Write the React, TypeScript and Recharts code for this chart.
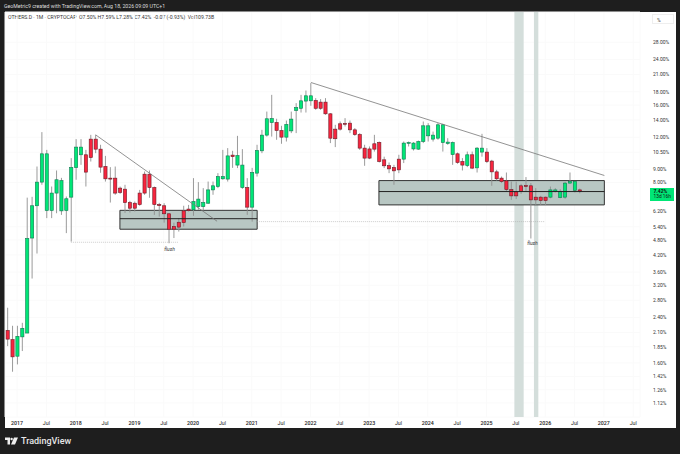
import React from "react";
import { Bar, CartesianGrid, ComposedChart, ReferenceArea, ReferenceDot, ReferenceLine, XAxis, YAxis } from "recharts";

// monthly candles, Nov 2016 to Aug 2026, values in %
const opens = [2.14, 1.97, 1.70, 2.02, 2.09, 4.88, 6.51, 8.04, 6.24, 6.24, 7.29, 6.22, 6.24, 7.03, 9.16, 10.26, 10.26, 11.80, 11.80, 10.79, 9.24, 8.33, 8.33, 7.62, 7.55, 6.70, 6.66, 7.29, 8.63, 8.63, 7.66, 6.58, 6.51, 6.06, 5.41, 5.62, 6.22, 6.32, 6.28, 6.46, 6.46, 6.66, 7.50, 7.73, 8.28, 8.26, 10.23, 9.36, 7.66, 7.66, 6.43, 8.71, 10.63, 12.23, 13.68, 13.68, 12.74, 12.01, 12.70, 15.23, 15.54, 16.57, 16.61, 16.66, 16.42, 16.42, 14.79, 12.90, 13.53, 13.57, 13.61, 12.82, 12.29, 10.89, 10.81, 11.32, 11.45, 9.81, 9.32, 9.16, 9.87, 9.87, 11.37, 10.81, 10.79, 11.55, 12.15, 11.80, 11.90, 11.45, 11.35, 10.28, 10.35, 9.66, 9.32, 10.26, 9.13, 10.51, 10.51, 9.70, 8.81, 8.33, 8.13, 7.52, 7.37, 7.78, 7.80, 7.78, 7.03, 7.03, 7.03, 7.03, 7.41, 7.00, 7.03, 7.97, 7.47, 7.50];
const highs = [2.62, 2.23, 2.23, 2.29, 7.00, 7.05, 9.24, 12.56, 10.72, 7.73, 8.92, 8.35, 7.07, 9.96, 11.80, 11.80, 10.72, 12.26, 12.26, 11.22, 10.16, 9.19, 9.24, 7.73, 7.85, 6.80, 6.76, 7.50, 8.84, 8.92, 7.73, 6.68, 6.66, 6.09, 5.60, 5.83, 6.51, 6.56, 8.33, 8.04, 7.62, 8.08, 8.08, 8.71, 10.72, 10.89, 10.63, 12.15, 10.79, 8.33, 9.13, 11.22, 12.82, 15.09, 17.52, 14.15, 13.29, 13.93, 15.09, 16.27, 17.52, 18.21, 19.46, 17.01, 16.87, 17.01, 14.88, 13.41, 13.81, 14.23, 13.93, 13.02, 12.45, 11.22, 11.05, 12.26, 11.55, 10.09, 9.58, 9.38, 10.26, 11.55, 11.55, 11.49, 11.65, 13.81, 13.61, 12.62, 13.61, 13.53, 11.90, 11.55, 10.47, 9.96, 10.56, 10.56, 10.99, 12.37, 10.89, 9.81, 8.97, 8.45, 8.76, 8.08, 8.08, 7.92, 8.41, 7.97, 7.62, 7.11, 7.07, 7.73, 7.62, 7.55, 8.06, 8.76, 8.13, 7.59];
const lows = [1.86, 1.48, 1.58, 1.78, 2.09, 3.40, 4.25, 7.85, 5.83, 5.83, 6.09, 6.00, 5.10, 4.73, 8.21, 9.38, 7.73, 9.66, 10.41, 8.74, 8.08, 6.70, 7.18, 7.24, 6.11, 6.13, 6.18, 6.51, 7.18, 6.99, 6.00, 5.91, 5.60, 4.66, 4.88, 5.17, 5.41, 6.18, 5.95, 6.28, 6.24, 6.62, 7.18, 7.62, 8.21, 8.08, 9.13, 9.11, 7.57, 6.00, 5.65, 8.45, 10.41, 12.07, 12.07, 11.73, 11.32, 11.55, 12.45, 12.45, 14.96, 14.96, 15.89, 15.33, 15.33, 14.66, 11.39, 10.99, 12.74, 13.21, 12.45, 12.15, 10.72, 9.30, 9.87, 10.56, 9.58, 9.11, 8.71, 7.85, 8.71, 9.53, 11.05, 10.66, 10.72, 11.39, 11.55, 11.55, 11.73, 10.56, 11.22, 9.38, 9.47, 8.92, 9.19, 9.03, 8.76, 10.09, 9.53, 7.78, 8.15, 7.97, 7.39, 6.86, 6.91, 7.24, 7.39, 4.86, 6.56, 6.56, 6.56, 6.96, 7.33, 6.96, 6.93, 7.92, 7.33, 7.28];
const closes = [1.98, 1.69, 2.03, 2.18, 4.86, 6.51, 8.04, 10.35, 10.35, 7.29, 8.21, 8.15, 6.93, 9.16, 10.99, 10.99, 8.79, 10.01, 10.79, 9.19, 8.28, 8.26, 7.29, 7.33, 6.70, 6.37, 6.37, 6.58, 7.29, 7.66, 6.58, 6.52, 6.06, 5.28, 5.28, 5.38, 5.60, 6.24, 6.76, 6.91, 6.70, 7.50, 7.78, 8.45, 8.45, 10.16, 10.09, 10.19, 9.36, 6.43, 8.76, 10.66, 12.23, 14.15, 14.18, 12.74, 12.01, 13.45, 14.11, 15.64, 16.61, 17.37, 17.37, 15.54, 15.54, 14.79, 11.90, 11.84, 12.90, 13.49, 12.82, 12.29, 10.89, 9.96, 9.96, 10.79, 9.66, 9.30, 9.05, 8.89, 8.97, 11.39, 11.45, 11.39, 11.55, 13.29, 13.29, 12.23, 13.41, 13.41, 11.49, 11.45, 9.58, 9.36, 10.26, 9.11, 10.89, 10.89, 9.66, 8.81, 8.28, 8.08, 7.52, 7.11, 7.11, 7.39, 7.73, 6.86, 6.86, 6.82, 6.82, 7.50, 7.50, 7.41, 7.97, 8.08, 8.08, 7.42];

// month slots after the first candle, first tick is Jan 2017
const xTicks = [2, 8, 14, 20, 26, 32, 38, 44, 50, 56, 62, 68, 74, 80, 86, 92, 98, 104, 110, 116, 122, 128];
const xTickLabels = ["2017", "Jul", "2018", "Jul", "2019", "Jul", "2020", "Jul", "2021", "Jul", "2022", "Jul", "2023", "Jul", "2024", "Jul", "2025", "Jul", "2026", "Jul", "2027", "Jul"];
const yTicks = [28, 24, 21, 18, 16, 14, 12, 10.5, 9, 8, 6.2, 5.4, 4.8, 4.2, 3.6, 3.2, 2.8, 2.4, 2.1, 1.85, 1.6, 1.42, 1.26, 1.12];

const chartData = opens.map((open, i) => ({
  month: i,
  open,
  close: closes[i],
  range: [lows[i], highs[i]],
}));

const GREEN = "#00e676";
const RED = "#f7253e";
const ZONE = "#b8c7c3";
const BAND = "#d4dedb";
const DARK = "#1e1e1e";
const FONT = "Roboto, 'Liberation Sans', sans-serif";

function Candle(props: any) {
  const { x, y, width, height, payload } = props;
  const [low, high] = payload.range;
  const span = Math.log(high) - Math.log(low);
  const yOf = (v: number) => y + (height * (Math.log(high) - Math.log(v))) / span;
  const up = payload.close >= payload.open;
  const top = yOf(Math.max(payload.open, payload.close));
  const bottom = yOf(Math.min(payload.open, payload.close));
  const mid = x + width / 2;
  return (
    <g>
      <line x1={mid} x2={mid} y1={y} y2={y + height} stroke="#8f8f8f" strokeWidth={0.9} />
      <rect
        x={x + 0.2}
        y={top}
        width={width - 0.4}
        height={Math.max(bottom - top, 0.8)}
        fill={up ? GREEN : RED}
        stroke={up ? "#0c7a50" : "#6e1a26"}
        strokeWidth={0.6}
      />
    </g>
  );
}

function XTick(props: any) {
  const { x, y, index } = props;
  const label = xTickLabels[index];
  return (
    <text x={x} y={y} dy={-0.5} textAnchor="middle" fontSize={5.3} fontFamily={FONT} fontWeight={label === "Jul" ? 400 : 500} fill="#222">
      {label}
    </text>
  );
}

function YTick(props: any) {
  const { x, y, payload } = props;
  return (
    <text x={x} y={y} dx={5} dy={1.8} textAnchor="start" fontSize={5} fontFamily={FONT} fill="#333">
      {payload.value.toFixed(2) + "%"}
    </text>
  );
}

function FlushLabel(props: any) {
  const { viewBox } = props;
  return (
    <text x={viewBox.x} y={viewBox.y} dy={1.5} textAnchor="middle" fontSize={5} fontStyle="italic" fontFamily={FONT} fill="#333">
      flush
    </text>
  );
}

export default function App() {
  return (
    <div style={{ position: "absolute", left: 0, top: 0, width: 680, height: 454, background: DARK, overflow: "hidden", fontFamily: FONT }}>
      <div style={{ position: "absolute", left: 4.5, top: 11.7, width: 671, height: 416, background: "#fff" }} />
      <div style={{ position: "absolute", left: 4, top: 3, fontSize: 5.2, lineHeight: "7px", color: "#ddd", whiteSpace: "nowrap" }}>
        GeoMetric9 created with TradingView.com, Aug 18, 2026 09:09 UTC+1
      </div>
      <div style={{ position: "absolute", left: 8, top: 14, fontSize: 5.15, lineHeight: "7px", color: "#333", whiteSpace: "nowrap" }}>
        OTHERS.D · 1M · CRYPTOCAP&nbsp; O7.50% H7.59% L7.28% C7.42% &nbsp;-0.07 (-0.93%)&nbsp; Vol109.73B
      </div>
      <ComposedChart
        width={680}
        height={454}
        data={chartData}
        margin={{ top: 12, right: 4, bottom: 7, left: 5 }}
        style={{ position: "absolute", left: 0, top: 0 }}
      >
        <CartesianGrid stroke="#fafafa" />
        <XAxis
          dataKey="month"
          type="number"
          domain={[-0.47, 129.39]}
          allowDataOverflow
          ticks={xTicks}
          interval={0}
          tick={<XTick />}
          tickLine={false}
          axisLine={false}
        />
        <YAxis
          orientation="right"
          width={36}
          scale="log"
          domain={[0.988, 36.7]}
          allowDataOverflow
          ticks={yTicks}
          interval={0}
          tick={<YTick />}
          tickLine={false}
          axisLine={false}
        />
        <ReferenceArea x1={103.7} x2={105.6} y1={0.988} y2={36.7} fill={BAND} fillOpacity={1} stroke="none" />
        <ReferenceArea x1={107.7} x2={108.6} y1={0.988} y2={36.7} fill={BAND} fillOpacity={1} stroke="none" />
        <ReferenceArea x1={23.03} x2={51.1} y1={5.28} y2={6.25} fill={ZONE} fillOpacity={1} stroke="#333" strokeWidth={1} />
        <ReferenceArea x1={76} x2={122.1} y1={6.56} y2={8.15} fill={ZONE} fillOpacity={1} stroke="#333" strokeWidth={1} />
        <ReferenceLine segment={[{ x: 23.03, y: 5.8 }, { x: 51.1, y: 5.8 }]} stroke="#222" strokeWidth={1} />
        <ReferenceLine segment={[{ x: 76, y: 7.39 }, { x: 122.1, y: 7.39 }]} stroke="#222" strokeWidth={1} />
        <ReferenceLine segment={[{ x: 18.06, y: 12.26 }, { x: 42.9, y: 5.67 }]} stroke="#777" strokeWidth={0.8} />
        <ReferenceLine segment={[{ x: 62.1, y: 19.56 }, { x: 122.1, y: 8.53 }]} stroke="#777" strokeWidth={0.8} />
        <ReferenceLine segment={[{ x: 13, y: 4.7 }, { x: 34.9, y: 4.7 }]} stroke="#aaa" strokeWidth={0.6} strokeDasharray="1 1" />
        <ReferenceLine segment={[{ x: 51.1, y: 5.65 }, { x: 109.9, y: 5.65 }]} stroke="#aaa" strokeWidth={0.6} strokeDasharray="1 1" />
        <Bar dataKey="range" barSize={3.6} shape={<Candle />} isAnimationActive={false} />
        <ReferenceDot x={33.2} y={4.39} r={0} fill="none" stroke="none" label={<FlushLabel />} />
        <ReferenceDot x={107.4} y={4.65} r={0} fill="none" stroke="none" label={<FlushLabel />} />
      </ComposedChart>
      <div style={{ position: "absolute", left: 652, top: 14, width: 22, height: 10, boxSizing: "border-box", border: "0.5px solid #eee", fontSize: 5, lineHeight: "10px", paddingLeft: 4, color: "#444" }}>%</div>
      <div style={{ position: "absolute", left: 650, top: 187.7, width: 24, height: 13.3, background: GREEN, color: "#111", boxSizing: "border-box" }}>
        <div style={{ position: "absolute", left: 3.5, top: 0.5, fontSize: 5, lineHeight: "6px", fontWeight: 700 }}>7.42%</div>
        <div style={{ position: "absolute", left: 3.5, top: 6.8, fontSize: 4.8, lineHeight: "6px", whiteSpace: "nowrap" }}>13d 16h</div>
      </div>
      <svg style={{ position: "absolute", left: 5, top: 437 }} width={13} height={8} viewBox="0 0 13 8">
        <path d="M0 0.5H5V7.5H2.5V3H0Z M9 0.5H13L10 7.5H6Z" fill="#eee" />
        <circle cx={6.6} cy={2} r={1.2} fill="#eee" />
      </svg>
      <div style={{ position: "absolute", left: 21, top: 436, fontSize: 9, lineHeight: "11px", fontWeight: 500, color: "#e8e8e8", whiteSpace: "nowrap" }}>TradingView</div>
    </div>
  );
}
